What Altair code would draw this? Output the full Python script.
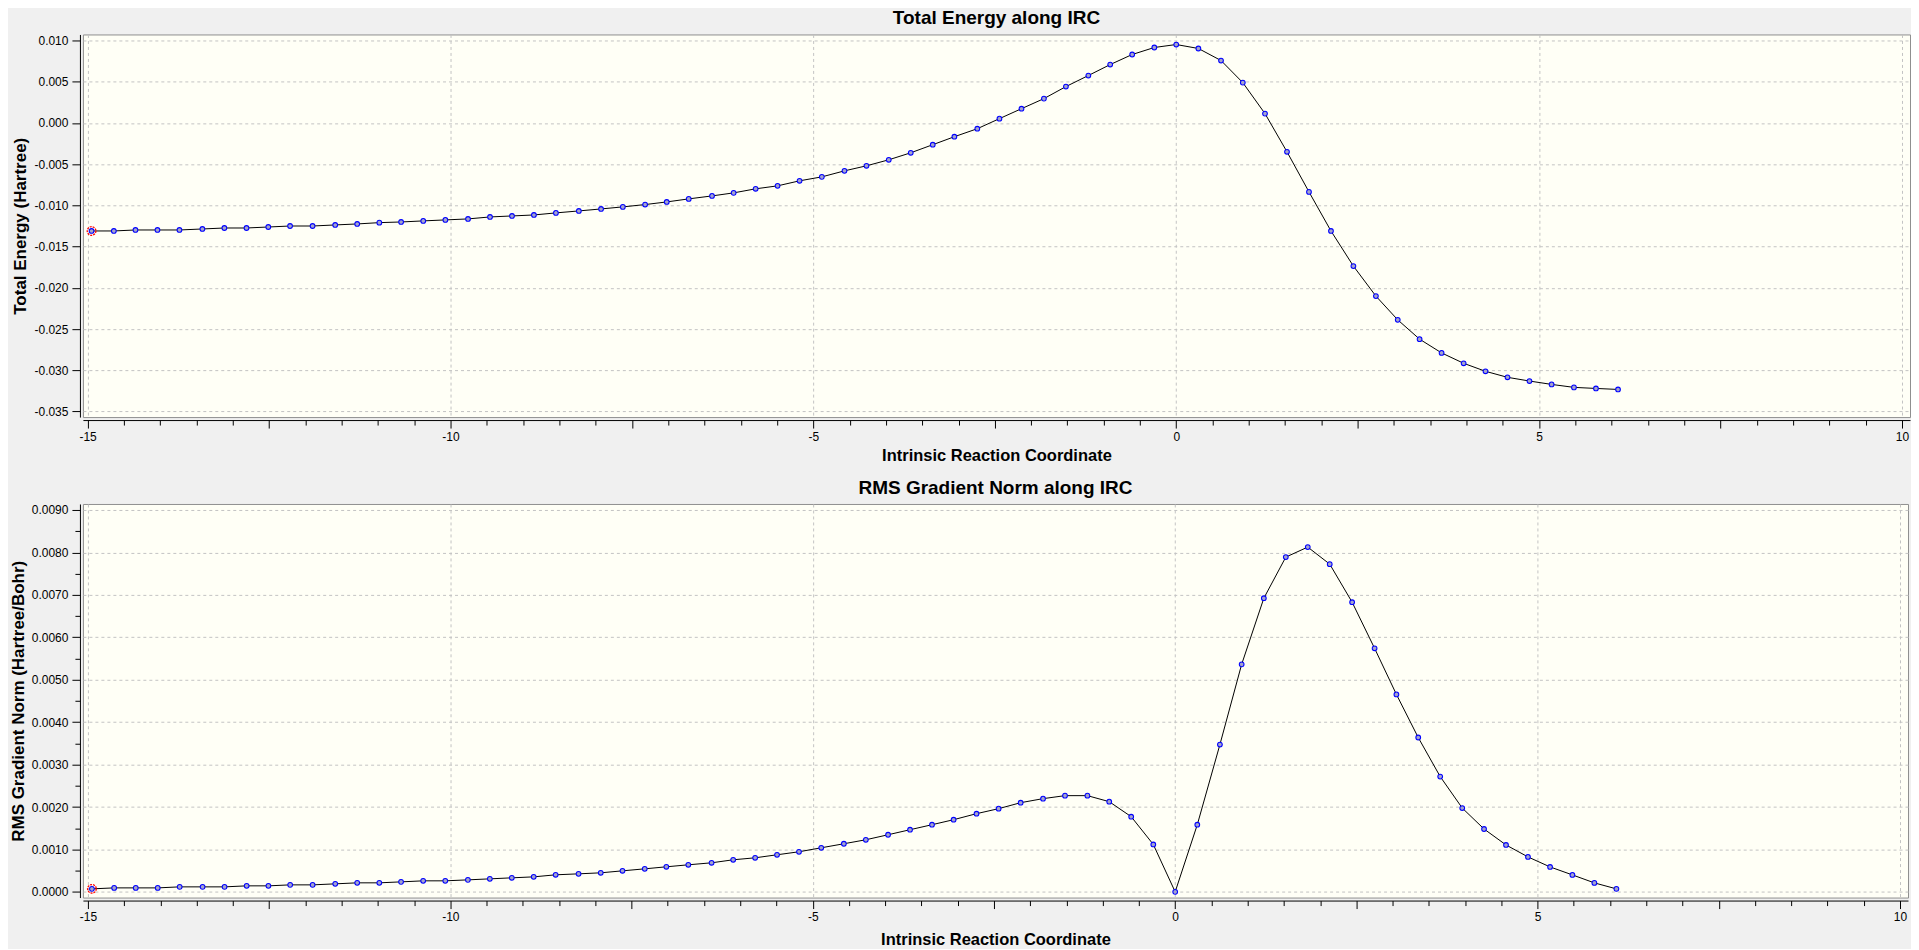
import altair as alt
import pandas as pd

# ---- data ----
irc = [-14.945, -14.638, -14.340, -14.037, -13.734, -13.418, -13.115, -12.810, -12.510, -12.210,
       -11.900, -11.588, -11.285, -10.980, -10.680, -10.375, -10.070, -9.758, -9.455, -9.152,
       -8.850, -8.547, -8.231, -7.925, -7.625, -7.318, -7.020, -6.717, -6.396, -6.098,
       -5.795, -5.493, -5.190, -4.883, -4.571, -4.268, -3.961, -3.658, -3.355, -3.057,
       -2.741, -2.436, -2.132, -1.823, -1.520, -1.211, -0.910, -0.607, -0.302, 0.000,
       0.305, 0.617, 0.917, 1.223, 1.526, 1.829, 2.132, 2.441, 2.751, 3.052,
       3.353, 3.656, 3.960, 4.261, 4.564, 4.867, 5.172, 5.480, 5.783, 6.087]

energy = [-0.01310, -0.01310, -0.01298, -0.01298, -0.01298, -0.01286, -0.01274, -0.01274, -0.01262, -0.01250,
          -0.01250, -0.01237, -0.01225, -0.01209, -0.01201, -0.01188, -0.01176, -0.01164, -0.01140, -0.01128,
          -0.01116, -0.01091, -0.01067, -0.01043, -0.01018, -0.00990, -0.00958, -0.00921, -0.00885, -0.00848,
          -0.00799, -0.00763, -0.00702, -0.00654, -0.00581, -0.00520, -0.00447, -0.00362, -0.00264, -0.00167,
          -0.00070, 0.00052, 0.00173, 0.00295, 0.00441, 0.00575, 0.00708, 0.00830, 0.00915, 0.00951,
          0.00903, 0.00757, 0.00489, 0.00113, -0.00350, -0.00836, -0.01310, -0.01736, -0.02100, -0.02388,
          -0.02622, -0.02789, -0.02915, -0.03012, -0.03085, -0.03130, -0.03171, -0.03207, -0.03220, -0.03232]

grad = [0.000071, 0.000094, 0.000094, 0.000094, 0.000118, 0.000118, 0.000118, 0.000142, 0.000142, 0.000165,
        0.000165, 0.000189, 0.000213, 0.000213, 0.000236, 0.000260, 0.000260, 0.000283, 0.000307, 0.000331,
        0.000354, 0.000402, 0.000425, 0.000449, 0.000496, 0.000543, 0.000591, 0.000638, 0.000685, 0.000756,
        0.000803, 0.000874, 0.000945, 0.001039, 0.001134, 0.001228, 0.001346, 0.001465, 0.001583, 0.001701,
        0.001843, 0.001961, 0.002102, 0.002197, 0.002268, 0.002268, 0.002126, 0.001772, 0.001118, 0.000000,
        0.001583, 0.003472, 0.005362, 0.006921, 0.007890, 0.008126, 0.007724, 0.006827, 0.005740, 0.004654,
        0.003638, 0.002717, 0.001976, 0.001482, 0.001106, 0.000824, 0.000588, 0.000400, 0.000212, 0.000071]

x_major = [-15, -10, -5, 0, 5, 10]
x_mid = [-12.5, -7.5, -2.5, 2.5, 7.5]
x_minor = [v / 2 for v in range(-30, 21) if v % 5 != 0]
y_top_major = [0.010, 0.005, 0.000, -0.005, -0.010, -0.015, -0.020, -0.025, -0.030, -0.035]
y_bot_major = [0.0090, 0.0080, 0.0070, 0.0060, 0.0050, 0.0040, 0.0030, 0.0020, 0.0010, 0.0000]
y_bot_minor = [0.0085, 0.0075, 0.0065, 0.0055, 0.0045, 0.0035, 0.0025, 0.0015, 0.0005]

df = pd.DataFrame({"irc": irc, "energy": energy, "grad": grad})
first = df.iloc[[0]]

FONT = "Liberation Sans"
GRID = "#c3c3c3"
FIX_MINUS = "replace(datum.label, '\u2212', '-')"


def x_axes(title, title_pad):
    main = alt.Axis(values=x_major, format="d", labelExpr=FIX_MINUS, title=title,
                    grid=True, gridColor=GRID, gridDash=[3, 3], gridWidth=1,
                    tickSize=8, tickColor="black", domainColor="black", domainWidth=1,
                    offset=3, orient="bottom", labelPadding=3, labelFont=FONT, labelFontSize=12,
                    labelColor="black", titleFont=FONT, titleFontSize=16.5, titleFontWeight="bold",
                    titleColor="black", titlePadding=title_pad, labelFlush=False)
    minor = alt.Axis(values=x_minor, labels=False, domain=False, grid=False, tickSize=5,
                     tickColor="black", title=None, offset=3, orient="bottom")
    mid = alt.Axis(values=x_mid, labels=False, domain=False, grid=False, tickSize=8,
                   tickColor="black", title=None, offset=3, orient="bottom")
    return main, minor, mid


def y_main(values, fmt, title):
    return alt.Axis(values=values, format=fmt, labelExpr=FIX_MINUS, title=title,
                    grid=True, gridColor=GRID, gridDash=[3, 3], gridWidth=1,
                    tickSize=8, tickColor="black", domainColor="black", domainWidth=1,
                    offset=3, orient="left", labelPadding=4, labelFont=FONT, labelFontSize=12,
                    labelColor="black", titleFont=FONT, titleFontSize=17, titleFontWeight="bold",
                    titleColor="black", titlePadding=4, labelFlush=False)


def panel(field, ydomain, yaxis, yminor_axis, title, width, height, xdomain, x_title_pad):
    xs = alt.Scale(domain=xdomain, nice=False, zero=False)
    ys = alt.Scale(domain=ydomain, nice=False, zero=False)
    ax_main, ax_minor, ax_mid = x_axes("Intrinsic Reaction Coordinate", x_title_pad)
    base = alt.Chart(df)
    line = base.mark_line(color="black", strokeWidth=1).encode(
        x=alt.X("irc:Q", scale=xs, axis=ax_main),
        y=alt.Y(f"{field}:Q", scale=ys, axis=yaxis),
    )
    pts = base.mark_point(shape="circle", fill="#a4a4cc", stroke="#0000ff", strokeWidth=1.1,
                          size=22, opacity=1, fillOpacity=1).encode(
        x=alt.X("irc:Q", scale=xs, axis=ax_minor),
        y=alt.Y(f"{field}:Q", scale=ys, axis=yminor_axis),
    )
    sel = alt.Chart(first).mark_point(shape="circle", stroke="#ff0000", strokeWidth=1.3,
                                      strokeDash=[2, 1], fillOpacity=0, size=75, opacity=1).encode(
        x=alt.X("irc:Q", scale=xs, axis=ax_mid),
        y=alt.Y(f"{field}:Q", scale=ys, axis=None),
    )
    return alt.layer(line, pts, sel).resolve_axis(x="independent", y="independent").properties(
        width=width, height=height,
        title=alt.TitleParams(title, font=FONT, fontSize=19, fontWeight="bold", color="black",
                              anchor="middle", offset=6),
    )


top = panel("energy", [-0.03567, 0.01073],
            y_main(y_top_major, ".3f", "Total Energy (Hartree)"), None,
            "Total Energy along IRC", 1829, 383, [-15.064, 10.11], 5)

bot_minor = alt.Axis(values=y_bot_minor, labels=False, domain=False, grid=False, tickSize=5,
                     tickColor="black", title=None, offset=3, orient="left")
bottom = panel("grad", [-0.000134, 0.009142],
               y_main(y_bot_major, ".4f", "RMS Gradient Norm (Hartree/Bohr)"), bot_minor,
               "RMS Gradient Norm along IRC", 1827, 394, [-15.069, 10.11], 9)

chart = alt.vconcat(top, bottom, spacing=14).properties(
    padding={"left": 0, "top": 0, "right": 0, "bottom": 0},
    background="#f0f0f0",
).configure_view(fill="#fffff6", stroke="#8f8f8f", strokeWidth=1)

chart.save("out.html", embed_options={"renderer": "svg", "actions": False})
